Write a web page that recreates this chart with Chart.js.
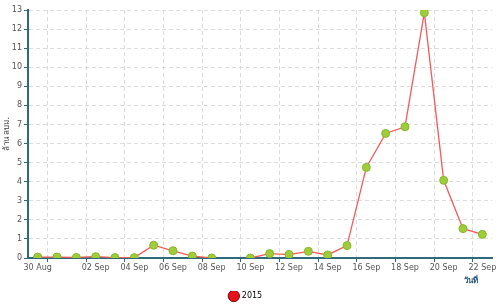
<!DOCTYPE html>
<html>
<head>
<meta charset="utf-8">
<script src="https://cdn.jsdelivr.net/npm/chart.js@4"></script>
<style>
  html, body { margin: 0; padding: 0; background: #fff; }
  canvas { display: block; }
</style>
</head>
<body>
<canvas id="chart" width="500" height="304"></canvas>
<script>
// one entry per day, 30 Aug - 22 Sep (9 Sep has no reading)
const days = ['30 Aug', '31 Aug', '01 Sep', '02 Sep', '03 Sep', '04 Sep', '05 Sep', '06 Sep',
  '07 Sep', '08 Sep', '09 Sep', '10 Sep', '11 Sep', '12 Sep', '13 Sep', '14 Sep', '15 Sep',
  '16 Sep', '17 Sep', '18 Sep', '19 Sep', '20 Sep', '21 Sep', '22 Sep'];
const values2015 = [0.05, 0.05, 0.03, 0.07, 0.02, 0.02, 0.67, 0.38, 0.1, 0.0, null, 0.0,
  0.23, 0.18, 0.35, 0.16, 0.65, 4.75, 6.53, 6.88, 12.86, 4.07, 1.54, 1.24];
const shownDays = ['30 Aug', '02 Sep', '04 Sep', '06 Sep', '08 Sep', '10 Sep', '12 Sep',
  '14 Sep', '16 Sep', '18 Sep', '20 Sep', '22 Sep'];
const yMax = 13;

const axisColor = '#2f6a7c';
const gridColor = '#dcdcdc';
const font = { family: 'DejaVu Sans', size: 8 };

// grid line every second day, plus the right edge
const showGrid = i => i % 2 === 1 || i === days.length;

const ctx = document.getElementById('chart').getContext('2d');
new Chart(ctx, {
  type: 'line',
  data: {
    labels: days,
    datasets: [{
      label: '2015',
      data: values2015,
      borderColor: '#f25a5a',
      backgroundColor: '#e8101a',
      borderWidth: 1.3,
      tension: 0,
      spanGaps: false,
      pointRadius: 4,
      pointHoverRadius: 4,
      pointBackgroundColor: '#9fcd3a',
      pointBorderColor: '#86b62c',
      pointBorderWidth: 1,
    }],
  },
  options: {
    responsive: false,
    animation: false,
    layout: { padding: { top: 10, right: 8, left: 0, bottom: -6 } },
    plugins: {
      tooltip: { enabled: false },
      legend: {
        position: 'bottom',
        labels: {
          usePointStyle: true,
          pointStyle: 'circle',
          boxWidth: 10,
          boxHeight: 10,
          padding: 1,
          color: '#444',
          font: font,
          generateLabels: chart => [{
            text: '2015',
            fillStyle: '#e8101a',
            strokeStyle: '#7a0a0a',
            lineWidth: 1,
            pointStyle: 'circle',
            datasetIndex: 0,
          }],
        },
      },
    },
    scales: {
      x: {
        offset: true,
        grid: {
          offset: true,
          color: c => showGrid(c.index) ? gridColor : 'rgba(0,0,0,0)',
          tickColor: c => showGrid(c.index) ? axisColor : 'rgba(0,0,0,0)',
          tickLength: 4,
        },
        border: { color: axisColor, width: 2, dash: [4, 3] },
        ticks: {
          autoSkip: false,
          maxRotation: 0,
          padding: 1,
          color: '#555',
          font: font,
          callback: function (v, i) {
            const d = days[i];
            return shownDays.includes(d) ? d : '';
          },
        },
        title: {
          display: true,
          text: 'วันที่     ',
          align: 'end',
          color: '#2d5a78',
          font: { family: 'DejaVu Sans', size: 8, weight: 'bold' },
          padding: { top: 0, bottom: 5 },
        },
        afterFit: s => { s.height = 33; },
      },
      y: {
        min: 0,
        max: yMax,
        grid: { color: gridColor, tickColor: axisColor, tickLength: 4 },
        border: { color: axisColor, width: 2, dash: [4, 3] },
        ticks: {
          stepSize: 1,
          padding: 2,
          color: '#555',
          font: font,
        },
        title: {
          display: true,
          text: 'ล้าน ลบม.',
          color: '#444',
          font: font,
          padding: { top: 2, bottom: 0 },
        },
        afterFit: s => { s.width = 28; },
      },
    },
  },
});
</script>
</body>
</html>
